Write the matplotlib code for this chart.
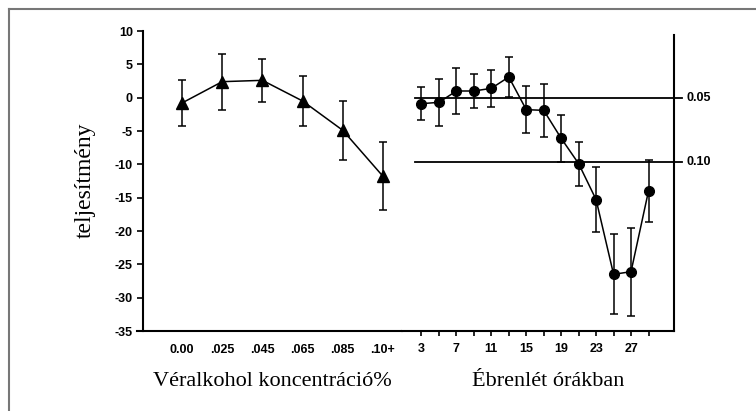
import matplotlib.pyplot as plt
from matplotlib.lines import Line2D
import numpy as np

# left panel: blood alcohol concentration
conc_labels = ["0.00", ".025", ".045", ".065", ".085", ".10+"]
conc_perf = [-0.8, 2.4, 2.6, -0.5, -4.9, -11.8]
conc_err = [3.4, 4.2, 3.2, 3.8, 4.4, 5.1]

# right panel: hours awake
hours = [3, 5, 7, 9, 11, 13, 15, 17, 19, 21, 23, 25, 27, 29]
hours_perf = [-0.9, -0.7, 1.0, 1.0, 1.4, 3.1, -1.8, -1.9, -6.1, -9.9, -15.3, -26.5, -26.1, -14.0]
hours_err = [2.5, 3.5, 3.4, 2.6, 2.8, 3.0, 3.5, 4.0, 3.5, 3.3, 4.9, 6.0, 6.6, 4.7]

# equivalent-alcohol reference lines
ref_values = [0.0, -9.7]
ref_labels = ["0.05", "0.10"]

y_ticks = list(range(-35, 11, 5))

tick_font = dict(family=["Liberation Sans Narrow", "Liberation Sans"], weight="bold", size=9)
label_font = dict(family="Liberation Serif", size=16)

W, H = 756, 411
fig = plt.figure(figsize=(W / 100, H / 100), dpi=100)

bot = 1 - 331 / H
hgt = 300 / H
ax1 = fig.add_axes([136.7 / W, bot, (402 - 136.7) / W, hgt])
ax2 = fig.add_axes([402 / W, bot, (674 - 402) / W, hgt])

lw = 1.1
ax1.errorbar(range(len(conc_labels)), conc_perf, yerr=conc_err, color="black",
             marker="^", markersize=9, lw=lw, elinewidth=lw, capsize=3, capthick=lw)
ax2.errorbar(hours, hours_perf, yerr=hours_err, color="black",
             marker="o", markersize=7, lw=lw, elinewidth=lw, capsize=3, capthick=lw)

ax1.set_xlim(-1.127, 5.473)
ax1.set_ylim(-35, 10)
ax1.set_yticks(y_ticks)
ax1.set_yticklabels([str(v) for v in y_ticks])
ax1.set_xticks(range(len(conc_labels)))
ax1.set_xticklabels(conc_labels)
ax1.tick_params(axis="x", length=0, pad=9)
ax1.tick_params(axis="y", length=4, width=1.2, pad=3)
ax1.spines["top"].set_visible(False)
ax1.spines["right"].set_visible(False)
ax1.spines["left"].set_position(("axes", 6 / (402 - 136.7)))
for s in ("left", "bottom"):
    ax1.spines[s].set_linewidth(1.5)

ax2.set_xlim(0.77, 31.92)
ax2.set_ylim(-35, 10)
ax2.set_xticks(hours)
ax2.set_xticklabels([str(h) if (h - 3) % 4 == 0 else "" for h in hours])
ax2.tick_params(axis="x", length=3.5, width=1.2, pad=5)
ax2.tick_params(axis="y", left=False, labelleft=False)
ax2.spines["top"].set_visible(False)
ax2.spines["left"].set_visible(False)
ax2.spines["right"].set_bounds(-35, 9.4)
for s in ("right", "bottom"):
    ax2.spines[s].set_linewidth(1.5)

for ax in (ax1, ax2):
    for lab in ax.get_xticklabels() + ax.get_yticklabels():
        lab.set_family(tick_font["family"])
        lab.set_weight("bold")
        lab.set_size(tick_font["size"])

for v, lab in zip(ref_values, ref_labels):
    ax2.plot([2.26, 32.85], [v, v], color="black", lw=1.3, clip_on=False)
    ax2.text(33.4, v, lab, va="center", ha="left", **tick_font)

fig.text(85 / W, 1 - 180 / H, "teljesítmény", rotation=90, ha="center", va="center",
         family="Liberation Serif", size=17)
fig.text(272 / W, 1 - 381 / H, "Véralkohol koncentráció%", ha="center", va="center", **label_font)
fig.text(548 / W, 1 - 381 / H, "Ébrenlét órákban", ha="center", va="center", **label_font)

# grey frame of the original scan (top and left edges)
fig.add_artist(Line2D([9 / W, 1], [1 - 9 / H, 1 - 9 / H], transform=fig.transFigure, color="#777777", lw=1.5))
fig.add_artist(Line2D([9 / W, 9 / W], [0, 1 - 9 / H], transform=fig.transFigure, color="#777777", lw=1.5))

fig.savefig("out.png", dpi=100)
